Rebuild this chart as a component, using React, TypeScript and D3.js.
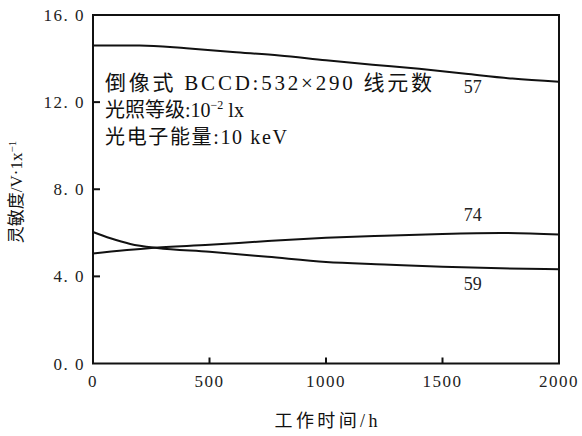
import React from "react";
import * as d3 from "d3";

const xTicks = [0, 500, 1000, 1500, 2000];
const xTickLabels = ["0", "500", "1000", "1500", "2000"];
const yTicks = [0, 4, 8, 12, 16];
const yTickLabels = ["0. 0", "4. 0", "8. 0", "12. 0", "16. 0"];

const hours57 = [0, 200, 400, 600, 800, 1000, 1200, 1400, 1600, 1800, 2000];
const sens57 = [14.6, 14.6, 14.47, 14.3, 14.14, 13.92, 13.72, 13.53, 13.3, 13.08, 12.94];

const hours74 = [0, 250, 500, 750, 1000, 1250, 1500, 1750, 2000];
const sens74 = [5.05, 5.3, 5.45, 5.62, 5.77, 5.87, 5.95, 5.99, 5.92];

const hours59 = [0, 75, 160, 275, 500, 750, 1000, 1250, 1500, 1750, 2000];
const sens59 = [6.04, 5.75, 5.49, 5.3, 5.13, 4.9, 4.66, 4.55, 4.44, 4.37, 4.33];

const seriesNames = ["57", "74", "59"];
const labelHour = 1630;
const labelValues = [12.7, 6.85, 3.65];

const annotationLines = ["倒像式 BCCD:532×290 线元数", "光照等级:10", "光电子能量:10 keV"];

const W = 582;
const H = 436;

export default function App() {
  const x = d3.scaleLinear().domain([0, 2000]).range([93, 559]);
  const y = d3.scaleLinear().domain([0, 16]).range([363.5, 15]);
  const line = d3
    .line<[number, number]>()
    .x((d) => x(d[0]))
    .y((d) => y(d[1]))
    .curve(d3.curveMonotoneX);

  const series = [
    hours57.map((h, i) => [h, sens57[i]] as [number, number]),
    hours74.map((h, i) => [h, sens74[i]] as [number, number]),
    hours59.map((h, i) => [h, sens59[i]] as [number, number]),
  ];

  const serif = "'Liberation Serif', 'DejaVu Serif', 'Noto Sans CJK SC', serif";
  const cjk = "'Liberation Serif', 'Noto Sans CJK SC', serif";

  return (
    <svg
      width={W}
      height={H}
      style={{ position: "absolute", left: 0, top: 0, background: "#fff" }}
    >
      <rect x={0} y={0} width={W} height={H} fill="#fff" />
      {/* frame */}
      <rect
        x={x(0)}
        y={y(16)}
        width={x(2000) - x(0)}
        height={y(0) - y(16)}
        fill="none"
        stroke="#111"
        strokeWidth={2}
      />
      {/* x ticks */}
      {xTicks.map((t, i) => (
        <g key={"xt" + i}>
          {t > 0 && t < 2000 && (
            <line x1={x(t)} x2={x(t)} y1={y(0)} y2={y(0) - 6} stroke="#111" strokeWidth={2} />
          )}
          <text
            x={x(t)}
            y={387}
            textAnchor="middle"
            fontFamily={serif}
            fontSize={17}
            letterSpacing={1.5}
            fill="#222"
          >
            {xTickLabels[i]}
          </text>
        </g>
      ))}
      {/* y ticks */}
      {yTicks.map((t, i) => (
        <g key={"yt" + i}>
          {t > 0 && t < 16 && (
            <line x1={x(0)} x2={x(0) + 7} y1={y(t)} y2={y(t)} stroke="#111" strokeWidth={2} />
          )}
          <text
            x={85}
            y={y(t) + 6}
            textAnchor="end"
            fontFamily={serif}
            fontSize={17}
            letterSpacing={1.5}
            fill="#222"
          >
            {yTickLabels[i]}
          </text>
        </g>
      ))}
      {/* curves */}
      {series.map((s, i) => (
        <path key={"s" + i} d={line(s) || ""} fill="none" stroke="#111" strokeWidth={2} />
      ))}
      {/* curve labels */}
      {seriesNames.map((n, i) => (
        <text
          key={"n" + i}
          x={x(labelHour)}
          y={y(labelValues[i])}
          textAnchor="middle"
          dy="0.35em"
          fontFamily={serif}
          fontSize={18}
          fill="#222"
        >
          {n}
        </text>
      ))}
      {/* annotation */}
      <text x={105} y={90} fontFamily={cjk} fontSize={21} fill="#111" textLength={327} lengthAdjust="spacing">
        {annotationLines[0]}
      </text>
      <text x={105} y={117} fontFamily={cjk} fontSize={20} fill="#111">
        {annotationLines[1]}
        <tspan dy={-8} fontSize={12}>−2</tspan>
        <tspan dy={8} fontSize={20}> lx</tspan>
      </text>
      <text x={105} y={144} fontFamily={cjk} fontSize={20} fill="#111" textLength={182} lengthAdjust="spacing">
        {annotationLines[2]}
      </text>
      {/* axis titles */}
      <text
        x={326}
        y={427}
        textAnchor="middle"
        fontFamily={cjk}
        fontSize={18}
        fill="#111"
        textLength={103}
        lengthAdjust="spacing"
      >
        工作时间/h
      </text>
      <text
        transform="translate(22,192) rotate(-90)"
        textAnchor="middle"
        fontFamily={cjk}
        fontSize={17}
        fill="#111"
      >
        灵敏度/V·1x
        <tspan dy={-6} fontSize={11}>−1</tspan>
      </text>
    </svg>
  );
}
